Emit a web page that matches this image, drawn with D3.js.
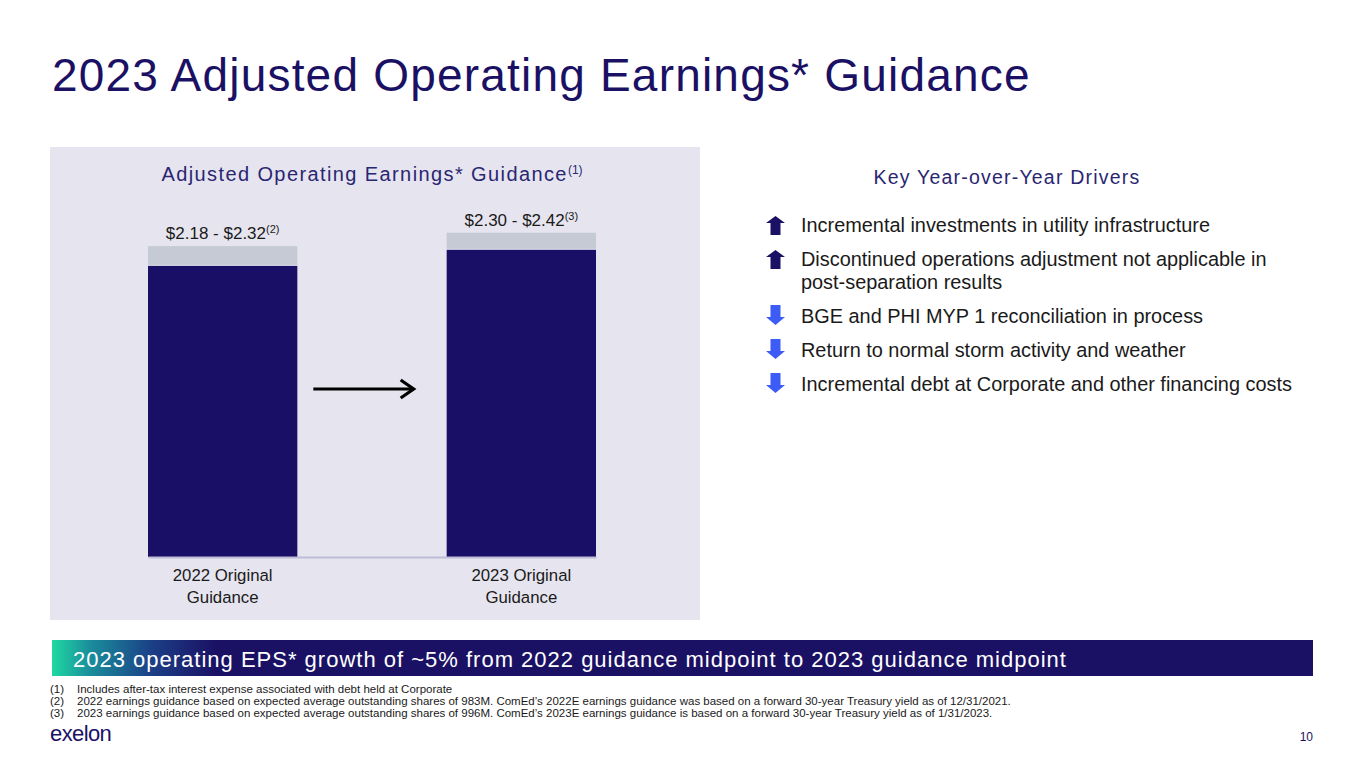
<!DOCTYPE html>
<html>
<head>
<meta charset="utf-8">
<script src="https://cdnjs.cloudflare.com/ajax/libs/d3/7.8.5/d3.min.js"></script>
<style>
    body { margin: 0; background: #ffffff; }
    svg { display: block; font-family: "Liberation Sans", Arial, sans-serif; }
</style>
</head>
<body>
<svg id="slide" width="1365" height="768"></svg>
<script>
    // chart values
    var categories = ["2022 Original", "2023 Original"];
    var categorySub = ["Guidance", "Guidance"];
    var lowValues = [2.18, 2.30];
    var highValues = [2.32, 2.42];
    var rangeLabels = ["$2.18 - $2.32", "$2.30 - $2.42"];
    var rangeNotes = ["(2)", "(3)"];

    // right side drivers
    var driverLines = [
        ["Incremental investments in utility infrastructure"],
        ["Discontinued operations adjustment not applicable in", "post-separation results"],
        ["BGE and PHI MYP 1 reconciliation in process"],
        ["Return to normal storm activity and weather"],
        ["Incremental debt at Corporate and other financing costs"]
    ];
    var driverDirections = ["up", "up", "down", "down", "down"];

    var footnotes = [
        "Includes after-tax interest expense associated with debt held at Corporate",
        "2022 earnings guidance based on expected average outstanding shares of 983M. ComEd\u2019s 2022E earnings guidance was based on a forward 30-year Treasury yield as of 12/31/2021.",
        "2023 earnings guidance based on expected average outstanding shares of 996M. ComEd\u2019s 2023E earnings guidance is based on a forward 30-year Treasury yield as of 1/31/2023."
    ];

    var navy = "#1b1164";
    var svg = d3.select("#slide");

    // page title
    svg.append("text")
        .attr("x", 52).attr("y", 91)
        .attr("fill", navy)
        .attr("font-size", 46)
        .attr("letter-spacing", 1.2)
        .text("2023 Adjusted Operating Earnings* Guidance");

    // chart panel
    svg.append("rect")
        .attr("x", 50).attr("y", 147)
        .attr("width", 650).attr("height", 473)
        .attr("fill", "#e6e5ef");

    var panelTitle = svg.append("text")
        .attr("x", 372).attr("y", 181)
        .attr("text-anchor", "middle")
        .attr("fill", "#2a2672")
        .attr("font-size", 20)
        .attr("letter-spacing", 1.4)
        .text("Adjusted Operating Earnings* Guidance");
    panelTitle.append("tspan")
        .attr("font-size", 12)
        .attr("dy", -7)
        .attr("letter-spacing", 0)
        .text("(1)");

    var x = d3.scaleBand()
        .domain(categories)
        .range([148, 596])
        .paddingInner(0.5)
        .paddingOuter(0);
    var y = d3.scaleLinear()
        .domain([0, 2.5])
        .range([557, 222]);

    var bars = svg.append("g").selectAll("g")
        .data(categories)
        .enter()
        .append("g");

    // range band (low to high)
    bars.append("rect")
        .attr("x", function (d) { return x(d); })
        .attr("width", x.bandwidth())
        .attr("y", function (d, i) { return y(highValues[i]); })
        .attr("height", function (d, i) { return y(lowValues[i]) - y(highValues[i]); })
        .attr("fill", "#c5cad4");

    // low end bar
    bars.append("rect")
        .attr("x", function (d) { return x(d); })
        .attr("width", x.bandwidth())
        .attr("y", function (d, i) { return y(lowValues[i]) + 1; })
        .attr("height", function (d, i) { return y(0) - y(lowValues[i]) - 1; })
        .attr("fill", "#1a0f66");

    var lbl = bars.append("text")
        .attr("x", function (d) { return x(d) + x.bandwidth() / 2; })
        .attr("y", function (d, i) { return y(highValues[i]) - 7; })
        .attr("text-anchor", "middle")
        .attr("fill", "#1a1a1a")
        .attr("font-size", 17);
    lbl.append("tspan").text(function (d, i) { return rangeLabels[i]; });
    lbl.append("tspan")
        .attr("font-size", 11)
        .attr("dy", -6)
        .text(function (d, i) { return rangeNotes[i]; });

    // category axis
    var xAxis = svg.append("g")
        .attr("transform", "translate(0," + y(0) + ")")
        .call(d3.axisBottom(x).tickSize(0).tickPadding(0));
    xAxis.select(".domain")
        .attr("stroke", "#bdbcd8")
        .attr("stroke-width", 2);
    xAxis.selectAll(".tick text").remove();
    var catText = xAxis.selectAll(".tick")
        .append("text")
        .attr("fill", "#1a1a1a")
        .attr("font-size", 16.8)
        .attr("text-anchor", "middle");
    catText.append("tspan").attr("x", 0).attr("y", 24).text(function (d) { return d; });
    catText.append("tspan").attr("x", 0).attr("y", 46).text(function (d, i) { return categorySub[i]; });
    xAxis.attr("font-family", null);

    // arrow between bars
    var arrowY = 389;
    var gapLeft = x(categories[0]) + x.bandwidth() + 16;
    var gapRight = x(categories[1]) - 33;
    svg.append("line")
        .attr("x1", gapLeft).attr("x2", gapRight)
        .attr("y1", arrowY).attr("y2", arrowY)
        .attr("stroke", "#000").attr("stroke-width", 3.2);
    svg.append("path")
        .attr("d", "M" + (gapRight - 13) + "," + (arrowY - 9) + "L" + gapRight + "," + arrowY + "L" + (gapRight - 13) + "," + (arrowY + 9))
        .attr("fill", "none")
        .attr("stroke", "#000").attr("stroke-width", 3.2);

    // drivers
    svg.append("text")
        .attr("x", 1007).attr("y", 184)
        .attr("text-anchor", "middle")
        .attr("fill", "#2a2672")
        .attr("font-size", 19.5)
        .attr("letter-spacing", 1.2)
        .text("Key Year-over-Year Drivers");

    var driverTop = [232, 266, 323, 357, 391];
    var dg = svg.append("g").selectAll("g")
        .data(driverLines)
        .enter()
        .append("g")
        .attr("transform", function (d, i) { return "translate(0," + driverTop[i] + ")"; });

    dg.append("path")
        .attr("d", function (d, i) {
            if (driverDirections[i] == "up") {
                return "M775.5,-16L785,-9L780.5,-9L780.5,3L770.5,3L770.5,-9L766,-9Z";
            }
            return "M770.5,-18L780.5,-18L780.5,-6L785,-6L775.5,2L766,-6L770.5,-6Z";
        })
        .attr("fill", function (d, i) { return driverDirections[i] == "up" ? "#1b1164" : "#3d5cf6"; });

    dg.selectAll("text")
        .data(function (d) { return d; })
        .enter()
        .append("text")
        .attr("x", 801)
        .attr("y", function (d, j) { return j * 23; })
        .attr("fill", "#1a1a1a")
        .attr("font-size", 19.9)
        .text(function (d) { return d; });

    // banner
    var grad = svg.append("defs").append("linearGradient")
        .attr("id", "bannerGrad")
        .attr("x1", "0%").attr("x2", "100%");
    grad.append("stop").attr("offset", "0%").attr("stop-color", "#1fd9a0");
    grad.append("stop").attr("offset", "3%").attr("stop-color", "#1a8e9c");
    grad.append("stop").attr("offset", "8%").attr("stop-color", "#1b3e86");
    grad.append("stop").attr("offset", "13%").attr("stop-color", "#1b1164");
    grad.append("stop").attr("offset", "100%").attr("stop-color", "#1b1164");

    svg.append("rect")
        .attr("x", 52).attr("y", 640)
        .attr("width", 1261).attr("height", 36)
        .attr("fill", "url(#bannerGrad)");
    svg.append("text")
        .attr("x", 73).attr("y", 667)
        .attr("fill", "#ffffff")
        .attr("font-size", 22)
        .attr("letter-spacing", 1)
        .text("2023 operating EPS* growth of ~5% from 2022 guidance midpoint to 2023 guidance midpoint");

    // footnotes
    var fn = svg.append("g").selectAll("g")
        .data(footnotes)
        .enter()
        .append("g")
        .attr("transform", function (d, i) { return "translate(0," + (693 + i * 12) + ")"; });
    fn.append("text")
        .attr("x", 50)
        .attr("font-size", 11.5)
        .attr("fill", "#1a1a1a")
        .text(function (d, i) { return "(" + (i + 1) + ")"; });
    fn.append("text")
        .attr("x", 77)
        .attr("font-size", 11.5)
        .attr("fill", "#1a1a1a")
        .text(function (d) { return d; });

    // logo and page number
    svg.append("text")
        .attr("x", 50).attr("y", 741)
        .attr("fill", "#1b1164")
        .attr("font-size", 22)
        .attr("letter-spacing", -0.6)
        .text("exelon");
    svg.append("text")
        .attr("x", 1313).attr("y", 741)
        .attr("text-anchor", "end")
        .attr("fill", "#1b1164")
        .attr("font-size", 12)
        .text("10");
</script>
</body>
</html>
